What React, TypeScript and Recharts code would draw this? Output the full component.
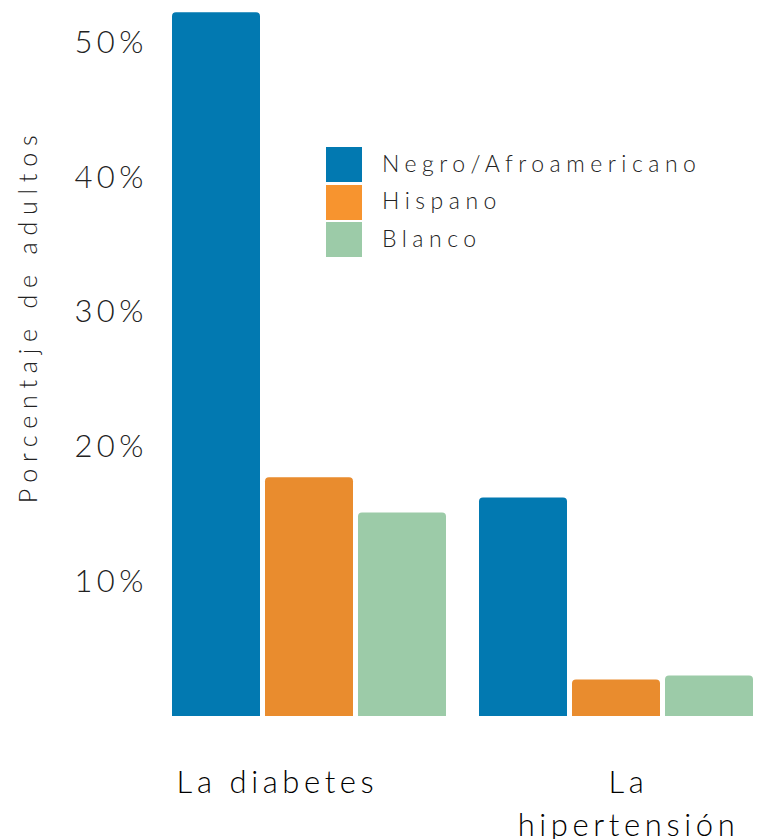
import { Bar, BarChart, XAxis, YAxis } from "recharts"

const categories = ["La diabetes", "La hipertensión"]
const negro = [52.2, 16.2]
const hispano = [17.7, 2.7]
const blanco = [15.1, 3.0]
const yTicks = [10, 20, 30, 40, 50]

const series = [
  { key: "negro", name: "Negro/Afroamericano", bar: "#0279b1", swatch: "#0279b1" },
  { key: "hispano", name: "Hispano", bar: "#e98c2e", swatch: "#f7942f" },
  { key: "blanco", name: "Blanco", bar: "#9ccba8", swatch: "#9ccba8" },
]

const data = categories.map((name, i) => ({
  name,
  negro: negro[i],
  hispano: hispano[i],
  blanco: blanco[i],
}))

const font = "Lato, 'Open Sans', sans-serif"

function CategoryTick({ x, y, payload, index }: any) {
  const words: string[] = payload.value.split(" ")
  const lines = payload.value.length > 12 ? [words[0], words.slice(1).join(" ")] : [payload.value]
  // the labels are not quite centred under their groups
  const cx = x + (index === 0 ? -32 : 12)
  return (
    <text
      x={cx}
      y={y + 69}
      textAnchor="middle"
      fill="#000"
      style={{ fontFamily: font, fontSize: 31, letterSpacing: 4.6, fontWeight: 300 }}
    >
      {lines.map((l, i) => (
        <tspan key={i} x={cx} dy={i === 0 ? 0 : 43}>
          {l}
        </tspan>
      ))}
    </text>
  )
}

function LegendBox() {
  return (
    <div style={{ position: "absolute", left: 326, top: 146, fontFamily: font }}>
      {series.map((s) => (
        <div key={s.key} style={{ display: "flex", alignItems: "center", height: 37.5 }}>
          <div style={{ width: 36, height: 35, background: s.swatch }} />
          <span style={{ marginLeft: 20, marginTop: -4, fontSize: 23, letterSpacing: 5.5, color: "#222", fontWeight: 300 }}>
            {s.name}
          </span>
        </div>
      ))}
    </div>
  )
}

export default function App() {
  return (
    <div style={{ position: "absolute", left: 0, top: 0, width: 760, height: 839, overflow: "hidden", background: "#fff" }}>
      <BarChart
        width={770}
        height={839}
        data={data}
        margin={{ top: 0, right: 0, left: 0, bottom: 0 }}
        barCategoryGap={16}
        barGap={5}
      >
        <XAxis dataKey="name" axisLine={false} tickLine={false} height={123} tick={<CategoryTick />} interval={0} />
        <YAxis
          width={156}
          domain={[0, 53.1]}
          ticks={yTicks}
          axisLine={false}
          tickLine={false}
          tickMargin={2}
          tickFormatter={(v) => `${v}%`}
          tick={{ fill: "#222", fontFamily: font, fontSize: 31, letterSpacing: 4.5, fontWeight: 300 }}
          label={{
            value: "Porcentaje de adultos",
            angle: -90,
            position: "insideLeft",
            dx: 23,
            dy: -42,
            style: { fontFamily: font, fontSize: 25, letterSpacing: 6.8, fill: "#222", textAnchor: "middle", fontWeight: 300 },
          }}
        />
        {series.map((s) => (
          <Bar key={s.key} dataKey={s.key} name={s.name} fill={s.bar} radius={[4, 4, 0, 0]} isAnimationActive={false} />
        ))}
      </BarChart>
      <LegendBox />
    </div>
  )
}
